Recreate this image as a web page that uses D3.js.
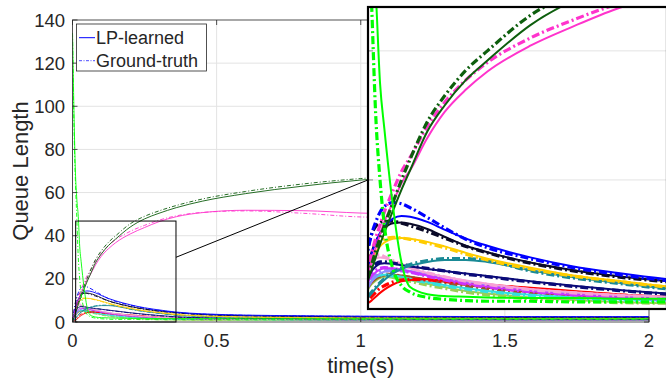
<!DOCTYPE html>
<html><head><meta charset="utf-8">
<script src="https://cdn.jsdelivr.net/npm/d3@7"></script>
<style>
body{margin:0;background:#fff}
svg{display:block}
text{font-family:"Liberation Sans",Arial,Helvetica,sans-serif;fill:#262626}
</style>
</head><body>
<svg id="c" width="666" height="382"></svg>
<script>
// ---------- DATA ----------
const T = [0, 0.005, 0.01, 0.015, 0.02, 0.025, 0.03, 0.04, 0.05, 0.06, 0.08, 0.1, 0.125, 0.15, 0.2, 0.25, 0.3, 0.36, 0.45, 0.6, 0.8, 1.0, 1.25, 1.5, 1.75, 2.0];
const xTicks = [0, 0.5, 1, 1.5, 2];
const xTickLabels = ["0", "0.5", "1", "1.5", "2"];
const yTicks = [0, 20, 40, 60, 80, 100, 120, 140];
const legendLabels = ["LP-learned", "Ground-truth"];
const xLabel = "time(s)";
const yLabel = "Queue Length";
const zoomT = [0.011, 0.359];
const zoomQ = [0, 46.8];

const limeLP = [134, 98, 70, 57, 49, 35, 28, 16, 7.2, 3.4, 2.3, 2.0, 1.9, 1.8, 1.7, 1.7, 1.6, 1.6, 1.6, 1.5, 1.5, 1.5, 1.5, 1.5, 1.5, 1.5];
const limeGT = [134, 92, 66, 48, 30, 20, 13, 6.2, 3.6, 2.6, 1.8, 1.5, 1.3, 1.2, 1.2, 1.1, 1.1, 1.1, 1.1, 1.1, 1.1, 1.1, 1.1, 1.1, 1.1, 1.1];
const darkGreenLP = [0, 2, 4, 6, 8, 10, 11.8, 15.2, 18.5, 21.5, 27.5, 31.5, 35.5, 38.5, 44, 47.8, 50.4, 53, 56, 59.5, 63, 65.8, 67.5, 68.5, 69.2, 69.6];
const darkGreenGT = [0, 2.3, 4.6, 6.8, 9, 11, 12.9, 16.5, 20, 23.2, 29, 33, 37, 40, 45.5, 49, 51.5, 54, 57, 60.5, 64, 66.5, 68.2, 69.2, 69.8, 70.2];
const magentaLP = [0, 2.5, 5, 7.3, 9.5, 11.5, 13.5, 16.5, 19.5, 21.5, 26.5, 30.5, 34, 36.8, 40.8, 43.8, 46.5, 48.8, 50.7, 51.8, 51.6, 50.5, 49.9, 49.6, 49.4, 49.3];
const magentaGT = [0, 3, 6, 8.6, 11, 13, 15, 18.3, 21.3, 23.5, 28.3, 32, 35.5, 38.2, 42, 44.8, 47.2, 49.2, 50.8, 51.5, 50.4, 48.7, 48.2, 48, 47.9, 47.8];
const blueLP = [0, 3, 6, 8.5, 10.3, 11.8, 12.8, 14.0, 14.4, 14.3, 13.5, 12.3, 10.9, 9.8, 8.0, 6.6, 5.6, 4.6, 3.8, 3.2, 2.9, 2.7, 2.6, 2.5, 2.5, 2.5];
const blueGT = [0, 4.5, 8.5, 11.5, 13.5, 15, 15.9, 16.5, 16.3, 15.7, 14.2, 12.6, 10.8, 9.5, 7.8, 6.4, 5.4, 4.4, 3.7, 3.1, 2.8, 2.6, 2.5, 2.5, 2.4, 2.4];
const blackLP = [0, 3.5, 6.5, 8.8, 10.5, 11.7, 12.5, 13.3, 13.4, 13.2, 12.4, 11.2, 9.8, 8.8, 7.2, 6.0, 5.1, 4.3, 3.5, 2.9, 2.6, 2.4, 2.3, 2.2, 2.2, 2.2];
const blackGT = [0, 5, 9, 11.5, 12.8, 13.4, 13.6, 13.6, 13.3, 12.9, 12.0, 11.0, 9.7, 8.7, 7.1, 5.9, 5.0, 4.2, 3.4, 2.9, 2.6, 2.4, 2.3, 2.2, 2.2, 2.2];
const goldLP = [0, 3, 5.5, 7.5, 8.8, 9.7, 10.3, 10.9, 11.0, 10.9, 10.4, 9.7, 8.7, 7.8, 6.4, 5.2, 4.4, 3.5, 2.8, 2.3, 2.0, 1.9, 1.8, 1.8, 1.8, 1.8];
const goldGT = [0, 3.5, 6.5, 8.5, 9.7, 10.4, 10.8, 11.1, 11.0, 10.8, 10.2, 9.5, 8.5, 7.6, 6.2, 5.1, 4.3, 3.4, 2.8, 2.3, 2.0, 1.9, 1.8, 1.8, 1.8, 1.8];
const tealLP = [0, 0.8, 1.6, 2.4, 3.2, 3.9, 4.5, 5.5, 6.2, 6.7, 7.3, 7.6, 7.6, 7.3, 6.0, 4.9, 4.1, 3.2, 2.6, 2.1, 1.9, 1.8, 1.7, 1.7, 1.7, 1.7];
const tealGT = [0, 0.8, 1.7, 2.6, 3.4, 4.1, 4.7, 5.7, 6.4, 6.9, 7.5, 7.8, 7.8, 7.5, 5.9, 4.8, 4.0, 3.1, 2.5, 2.1, 1.9, 1.8, 1.7, 1.7, 1.7, 1.7];
const navyLP = [0, 2.5, 4.5, 5.8, 6.6, 7.0, 7.1, 7.0, 6.8, 6.6, 6.2, 5.9, 5.5, 5.1, 4.3, 3.6, 3.0, 2.4, 2.0, 1.7, 1.5, 1.4, 1.3, 1.3, 1.3, 1.3];
const navyGT = [0, 3, 5.2, 6.4, 7.0, 7.3, 7.3, 7.1, 6.9, 6.7, 6.3, 5.9, 5.4, 5.0, 4.2, 3.5, 2.9, 2.3, 1.9, 1.6, 1.5, 1.4, 1.3, 1.3, 1.3, 1.3];
const pinkLP = [0, 3, 5.5, 7.0, 7.8, 8.0, 7.9, 7.4, 6.8, 6.3, 5.6, 5.0, 4.4, 3.9, 3.1, 2.6, 2.2, 1.9, 1.6, 1.4, 1.3, 1.2, 1.2, 1.2, 1.2, 1.2];
const pinkGT = [0, 3.5, 6.2, 7.7, 8.3, 8.4, 8.1, 7.5, 6.9, 6.4, 5.6, 5.0, 4.3, 3.8, 3.0, 2.5, 2.1, 1.8, 1.6, 1.4, 1.3, 1.2, 1.2, 1.2, 1.2, 1.2];
const violetLP = [0, 2, 3.8, 5, 5.7, 6.1, 6.3, 6.3, 6.1, 5.8, 5.2, 4.6, 4.0, 3.5, 2.8, 2.2, 1.9, 1.6, 1.4, 1.2, 1.1, 1.1, 1.0, 1.0, 1.0, 1.0];
const violetGT = [0, 2.4, 4.3, 5.4, 6.0, 6.3, 6.4, 6.3, 6.0, 5.7, 5.1, 4.5, 3.9, 3.4, 2.7, 2.2, 1.8, 1.5, 1.3, 1.2, 1.1, 1.0, 1.0, 1.0, 1.0, 1.0];
const lavenderLP = [0, 1.5, 3, 4.2, 5, 5.5, 5.8, 6.1, 6.1, 5.9, 5.4, 4.9, 4.3, 3.8, 3.0, 2.5, 2.1, 1.8, 1.5, 1.3, 1.2, 1.1, 1.1, 1.1, 1.1, 1.1];
const lavenderGT = [0, 1.8, 3.4, 4.6, 5.3, 5.7, 5.9, 6.0, 5.9, 5.7, 5.2, 4.7, 4.1, 3.6, 2.9, 2.4, 2.0, 1.7, 1.5, 1.3, 1.2, 1.1, 1.1, 1.1, 1.1, 1.1];
const redLP = [0, 0.3, 0.8, 1.3, 1.9, 2.5, 3.0, 3.8, 4.3, 4.5, 4.6, 4.4, 4.1, 3.8, 3.3, 2.8, 2.3, 1.9, 1.6, 1.4, 1.3, 1.2, 1.2, 1.2, 1.2, 1.2];
const redGT = [0, 0.5, 1.2, 1.9, 2.6, 3.2, 3.6, 4.2, 4.5, 4.6, 4.5, 4.3, 4.0, 3.7, 3.1, 2.6, 2.2, 1.8, 1.5, 1.4, 1.3, 1.2, 1.2, 1.2, 1.2, 1.2];
const brownLP = [0, 1.5, 3, 4, 4.6, 5, 5.2, 5.3, 5.2, 5.0, 4.6, 4.2, 3.7, 3.3, 2.6, 2.1, 1.8, 1.5, 1.3, 1.2, 1.1, 1.0, 1.0, 1.0, 1.0, 1.0];
const brownGT = [0, 1.8, 3.4, 4.4, 5.0, 5.3, 5.4, 5.3, 5.1, 4.9, 4.4, 4.0, 3.5, 3.1, 2.5, 2.0, 1.7, 1.4, 1.3, 1.2, 1.1, 1.0, 1.0, 1.0, 1.0, 1.0];
const yellowGreenLP = [0, 1.5, 2.8, 3.8, 4.4, 4.8, 5.0, 5.0, 4.8, 4.5, 3.9, 3.4, 2.8, 2.4, 1.8, 1.4, 1.1, 0.9, 0.8, 0.8, 0.8, 0.8, 0.8, 0.8, 0.8, 0.8];
const yellowGreenGT = [0, 1.8, 3.2, 4.2, 4.7, 5.0, 5.1, 4.9, 4.6, 4.3, 3.7, 3.2, 2.6, 2.2, 1.6, 1.3, 1.0, 0.9, 0.8, 0.8, 0.8, 0.8, 0.8, 0.8, 0.8, 0.8];
const cyanLP = [0, 1.8, 3.3, 4.3, 4.9, 5.2, 5.3, 5.2, 5.0, 4.7, 4.2, 3.7, 3.2, 2.8, 2.2, 1.8, 1.5, 1.3, 1.2, 1.1, 1.0, 1.0, 1.0, 1.0, 1.0, 1.0];
const cyanGT = [0, 2, 3.6, 4.6, 5.1, 5.3, 5.3, 5.1, 4.9, 4.6, 4.1, 3.6, 3.1, 2.7, 2.1, 1.7, 1.4, 1.3, 1.2, 1.1, 1.0, 1.0, 1.0, 1.0, 1.0, 1.0];

const series = [
  {color: "#99d055", lp: yellowGreenLP, gt: yellowGreenGT},
  {color: "#a0522d", lp: brownLP, gt: brownGT},
  {color: "#33e0e0", lp: cyanLP, gt: cyanGT},
  {color: "#ff0000", lp: redLP, gt: redGT},
  {color: "#8c8cff", lp: lavenderLP, gt: lavenderGT},
  {color: "#cc33ff", lp: violetLP, gt: violetGT},
  {color: "#f7a1d6", lp: pinkLP, gt: pinkGT},
  {color: "#0a0a78", lp: navyLP, gt: navyGT},
  {color: "#1a8a96", lp: tealLP, gt: tealGT},
  {color: "#ffcc00", lp: goldLP, gt: goldGT},
  {color: "#0a0a28", lp: blackLP, gt: blackGT},
  {color: "#0000ff", lp: blueLP, gt: blueGT},
  {color: "#ff33cc", lp: magentaLP, gt: magentaGT},
  {color: "#0d5e0d", lp: darkGreenLP, gt: darkGreenGT},
  {color: "#00ff00", lp: limeLP, gt: limeGT}
];

// ---------- LAYOUT ----------
const svg = d3.select("#c");
const M = {l: 72.5, r: 649, t: 20, b: 322};
const IN = {l: 368, r: 667, t: 7, b: 309};
const axisColor = "#262626", gridColor = "#e3e3e3";

const x = d3.scaleLinear().domain([0, 2]).range([M.l, M.r]);
const y = d3.scaleLinear().domain([0, 140]).range([M.b, M.t]);
const xi = d3.scaleLinear().domain(zoomT).range([IN.l, IN.r]);
const yi = d3.scaleLinear().domain(zoomQ).range([IN.b, IN.t]);

const defs = svg.append("defs");
defs.append("clipPath").attr("id", "cm").append("rect")
  .attr("x", M.l).attr("y", M.t).attr("width", M.r - M.l).attr("height", M.b - M.t);
defs.append("clipPath").attr("id", "ci").append("rect")
  .attr("x", IN.l).attr("y", IN.t).attr("width", IN.r - IN.l).attr("height", IN.b - IN.t);

// grid
const g = svg.append("g");
g.selectAll(".gy").data(yTicks.slice(1, -1)).join("line")
  .attr("x1", M.l).attr("x2", M.r).attr("y1", d => y(d)).attr("y2", d => y(d))
  .attr("stroke", gridColor).attr("stroke-width", 1);
g.selectAll(".gx").data(xTicks.slice(1, -1)).join("line")
  .attr("y1", M.t).attr("y2", M.b).attr("x1", d => x(d)).attr("x2", d => x(d))
  .attr("stroke", gridColor).attr("stroke-width", 1);

// main lines
const lineMain = d3.line().x((d, i) => x(T[i])).y(d => y(d)).curve(d3.curveMonotoneX);
const pm = svg.append("g").attr("clip-path", "url(#cm)");
series.forEach(s => {
  pm.append("path").attr("d", lineMain(s.lp)).attr("fill", "none")
    .attr("stroke", s.color).attr("stroke-width", 0.9);
  pm.append("path").attr("d", lineMain(s.gt)).attr("fill", "none")
    .attr("stroke", s.color).attr("stroke-width", 0.9).attr("stroke-dasharray", "4,2,1,2");
});

// axes box
const ax = svg.append("g");
ax.append("rect").attr("x", M.l).attr("y", M.t).attr("width", M.r - M.l).attr("height", M.b - M.t)
  .attr("fill", "none").attr("stroke", axisColor).attr("stroke-width", 0.8);
xTicks.forEach(v => {
  ax.append("line").attr("x1", x(v)).attr("x2", x(v)).attr("y1", M.b).attr("y2", M.b - 5).attr("stroke", axisColor).attr("stroke-width", 0.8);
  ax.append("line").attr("x1", x(v)).attr("x2", x(v)).attr("y1", M.t).attr("y2", M.t + 5).attr("stroke", axisColor).attr("stroke-width", 0.8);
});
yTicks.forEach(v => {
  ax.append("line").attr("x1", M.l).attr("x2", M.l + 5).attr("y1", y(v)).attr("y2", y(v)).attr("stroke", axisColor).attr("stroke-width", 0.8);
  ax.append("line").attr("x1", M.r).attr("x2", M.r - 5).attr("y1", y(v)).attr("y2", y(v)).attr("stroke", axisColor).attr("stroke-width", 0.8);
});
ax.selectAll(".xl").data(xTicks).join("text")
  .attr("x", d => x(d)).attr("y", 347).attr("text-anchor", "middle")
  .attr("font-size", 18.5).text((d, i) => xTickLabels[i]);
ax.selectAll(".yl").data(yTicks).join("text")
  .attr("x", 65).attr("y", d => y(d) + 6.5).attr("text-anchor", "end")
  .attr("font-size", 18.5).text(d => d);
ax.append("text").attr("x", (M.l + M.r) / 2).attr("y", 373).attr("text-anchor", "middle")
  .attr("font-size", 22).text(xLabel);
ax.append("text").attr("transform", `translate(28,${(M.t + M.b) / 2}) rotate(-90)`)
  .attr("text-anchor", "middle").attr("font-size", 22).text(yLabel);

// legend
const lg = svg.append("g");
lg.append("rect").attr("x", 76.5).attr("y", 24).attr("width", 130).attr("height", 47)
  .attr("fill", "#fff").attr("stroke", axisColor).attr("stroke-width", 0.8);
legendLabels.forEach((lab, i) => {
  const yy = 37.7 + i * 23;
  lg.append("line").attr("x1", 79).attr("x2", 95).attr("y1", yy).attr("y2", yy)
    .attr("stroke", i === 0 ? "#0000ff" : "#4d4dff").attr("stroke-width", 1)
    .attr("stroke-dasharray", i === 0 ? null : "3,1.5,1,1.5");
  lg.append("text").attr("x", 96).attr("y", yy + 6.5).attr("font-size", 18).text(lab);
});

// zoom rectangle
svg.append("rect").attr("x", x(zoomT[0])).attr("y", y(zoomQ[1]))
  .attr("width", x(zoomT[1]) - x(zoomT[0])).attr("height", y(zoomQ[0]) - y(zoomQ[1]))
  .attr("fill", "none").attr("stroke", "#000").attr("stroke-width", 1);
// connector
svg.append("line").attr("x1", x(zoomT[1])).attr("y1", y(30))
  .attr("x2", IN.l).attr("y2", yi(20)).attr("stroke", "#000").attr("stroke-width", 1);

// inset
const ig = svg.append("g");
ig.append("rect").attr("x", IN.l).attr("y", IN.t).attr("width", IN.r - IN.l).attr("height", IN.b - IN.t)
  .attr("fill", "#fff");
[20, 40].forEach(v => {
  ig.append("line").attr("x1", IN.l).attr("x2", IN.r).attr("y1", yi(v)).attr("y2", yi(v))
    .attr("stroke", gridColor).attr("stroke-width", 1);
  ig.append("line").attr("x1", IN.l).attr("x2", IN.l + 5).attr("y1", yi(v)).attr("y2", yi(v))
    .attr("stroke", "#888").attr("stroke-width", 1);
});
const lineIn = d3.line().x((d, i) => xi(T[i])).y(d => yi(d)).curve(d3.curveMonotoneX);
const pi = ig.append("g").attr("clip-path", "url(#ci)");
series.forEach(s => {
  pi.append("path").attr("d", lineIn(s.lp)).attr("fill", "none")
    .attr("stroke", s.color).attr("stroke-width", 2);
  pi.append("path").attr("d", lineIn(s.gt)).attr("fill", "none")
    .attr("stroke", s.color).attr("stroke-width", 3.2).attr("stroke-dasharray", "8,3,2,3");
});
ig.append("rect").attr("x", IN.l).attr("y", IN.t).attr("width", IN.r - IN.l).attr("height", IN.b - IN.t)
  .attr("fill", "none").attr("stroke", "#000").attr("stroke-width", 2.2);
</script>
</body></html>
